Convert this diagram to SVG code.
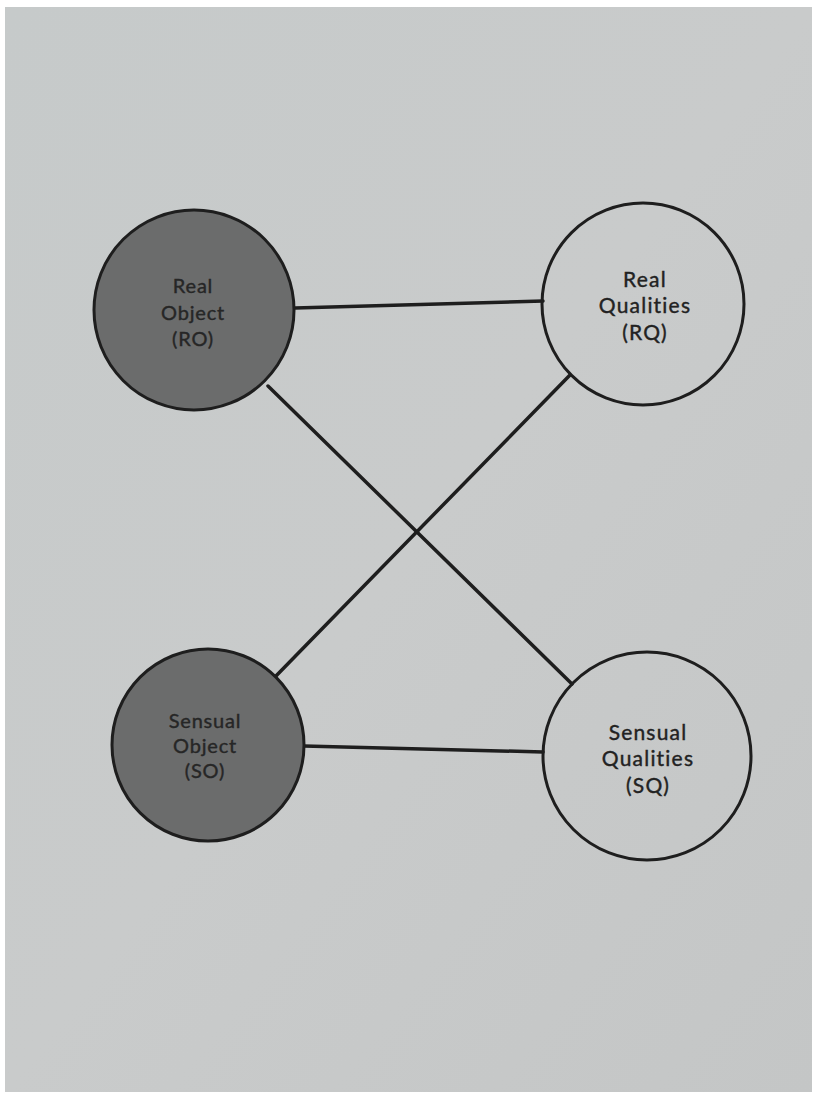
<svg xmlns="http://www.w3.org/2000/svg" width="817" height="1097" viewBox="0 0 817 1097">
<style>
.edge{stroke:#1e1e1e;stroke-width:3.5;fill:none;stroke-linecap:round}
.dark{fill:#6b6c6c;stroke:#1e1e1e;stroke-width:3}
.light{fill:none;stroke:#1e1e1e;stroke-width:3}
.lbl{font-family:Lato,"Noto Sans",sans-serif;font-size:20px;letter-spacing:0.8px;font-variant-ligatures:none;fill:#262626;stroke:#262626;stroke-width:0.4;text-anchor:middle}
.lblL{font-family:Lato,"Noto Sans",sans-serif;font-size:21px;letter-spacing:1.2px;font-variant-ligatures:none;fill:#222;stroke:#222;stroke-width:0.4;text-anchor:middle}
</style>
<defs>
<linearGradient id="paper" x1="0" y1="0" x2="1" y2="1">
<stop offset="0" stop-color="#c6caca"/>
<stop offset="0.5" stop-color="#c9cbcb"/>
<stop offset="1" stop-color="#c4c6c6"/>
</linearGradient>
</defs>
<rect width="817" height="1097" fill="#ffffff"/>
<rect x="5" y="7" width="807" height="1085" fill="url(#paper)"/>
<g id="connectors">
<line class="edge" x1="295" y1="308" x2="543" y2="301"/>
<line class="edge" x1="268" y1="386" x2="572" y2="684"/>
<line class="edge" x1="570" y1="375" x2="274" y2="678"/>
<line class="edge" x1="304" y1="746" x2="543" y2="752"/>
</g>
<g id="RO">
<circle class="dark" cx="194" cy="310" r="100"/>
<text class="lbl" x="193" y="293">Real</text>
<text class="lbl" x="193" y="320">Object</text>
<text class="lbl" x="193" y="346">(RO)</text>
</g>
<g id="RQ">
<circle class="light" cx="643" cy="304" r="101"/>
<text class="lblL" x="645" y="287">Real</text>
<text class="lblL" x="645" y="313">Qualities</text>
<text class="lblL" x="645" y="340">(RQ)</text>
</g>
<g id="SO">
<circle class="dark" cx="208" cy="745" r="96"/>
<text class="lbl" x="205" y="728">Sensual</text>
<text class="lbl" x="205" y="753">Object</text>
<text class="lbl" x="205" y="778">(SO)</text>
</g>
<g id="SQ">
<circle class="light" cx="647" cy="756" r="104"/>
<text class="lblL" x="648" y="740">Sensual</text>
<text class="lblL" x="648" y="766">Qualities</text>
<text class="lblL" x="648" y="793">(SQ)</text>
</g>
</svg>
